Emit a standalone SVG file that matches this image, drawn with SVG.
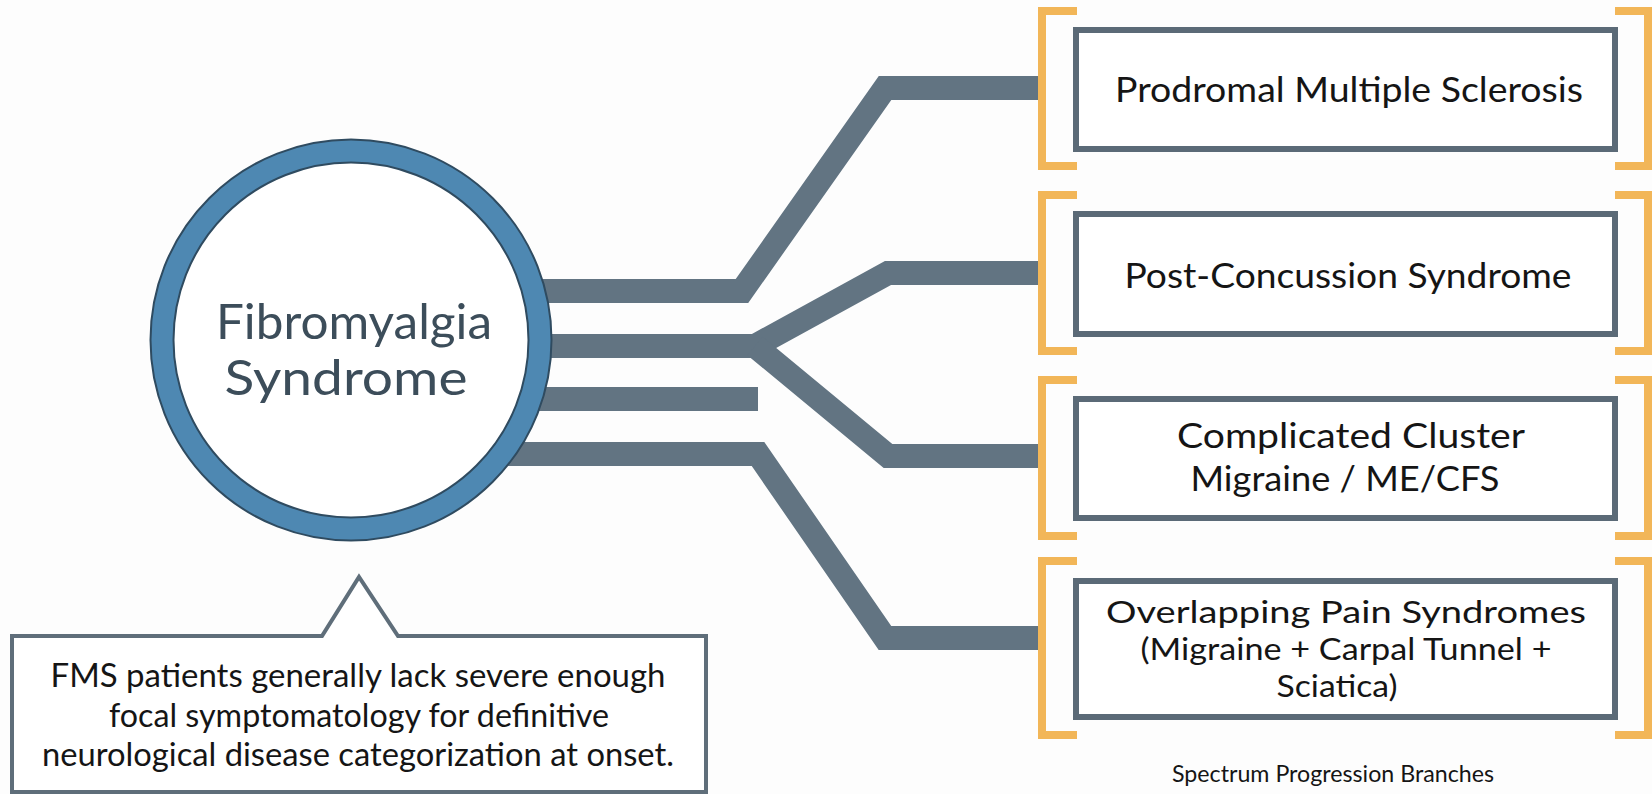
<svg xmlns="http://www.w3.org/2000/svg" width="1652" height="794" viewBox="0 0 1652 794">
<defs>
<style>
.bar{fill:none;stroke:#627482;stroke-width:24;stroke-linejoin:miter;stroke-linecap:butt}
.box{fill:#ffffff;stroke:#5b6a77;stroke-width:6}
.brk{fill:none;stroke:#f2b658;stroke-width:8;stroke-linecap:butt;stroke-linejoin:miter}
.t{font-family:Lato,"Open Sans","Liberation Sans",sans-serif;fill:#151515;text-anchor:middle}
.bt{font-size:34px}
.bt4{font-size:30px}
.ct{font-size:32px}
.lbl{font-size:24px}
.ft{font-family:Lato,"Open Sans","Liberation Sans",sans-serif;fill:#3c4d5a;text-anchor:middle;font-size:48px}
</style>
</defs>
<rect x="0" y="0" width="1652" height="794" fill="#fdfdfd"/>

<g id="connectors">
  <path class="bar" d="M500,291 L742,291 L885,88 L1040,88"/>
  <path class="bar" d="M500,346 L755,346 L888,273 L1040,273"/>
  <path class="bar" d="M755,346 L888,456 L1040,456"/>
  <path class="bar" d="M500,399 L758,399"/>
  <path class="bar" d="M500,454 L758,454 L885,638 L1040,638"/>
</g>

<g id="node-fms">
  <circle cx="351" cy="340" r="189" fill="#ffffff" stroke="#2f4b60" stroke-width="25"/>
  <circle cx="351" cy="340" r="189" fill="none" stroke="#4e88b2" stroke-width="21"/>
  <text class="ft" x="354" y="339" textLength="276" lengthAdjust="spacingAndGlyphs">Fibromyalgia</text>
  <text class="ft" x="346" y="395" textLength="243" lengthAdjust="spacingAndGlyphs">Syndrome</text>
</g>

<g id="node-callout">
  <path d="M12,636 L322,636 L359,577 L398,636 L706,636 L706,792 L12,792 Z" fill="#ffffff" stroke="#5f6e7a" stroke-width="4" stroke-linejoin="miter"/>
  <text class="t ct" x="358" y="687" textLength="615" lengthAdjust="spacingAndGlyphs">FMS patients generally lack severe enough</text>
  <text class="t ct" x="359" y="727" textLength="500" lengthAdjust="spacingAndGlyphs">focal symptomatology for definitive</text>
  <text class="t ct" x="358" y="766" textLength="632" lengthAdjust="spacingAndGlyphs">neurological disease categorization at onset.</text>
</g>

<g id="node-ms">
  <path class="brk" d="M1077,11 L1042,11 L1042,166 L1077,166"/>
  <path class="brk" d="M1615,11 L1648,11 L1648,166 L1615,166"/>
  <rect class="box" x="1076" y="30" width="539" height="119"/>
  <text class="t bt" x="1349" y="102" textLength="468" lengthAdjust="spacingAndGlyphs">Prodromal Multiple Sclerosis</text>
</g>

<g id="node-pcs">
  <path class="brk" d="M1077,195 L1042,195 L1042,351 L1077,351"/>
  <path class="brk" d="M1615,195 L1648,195 L1648,351 L1615,351"/>
  <rect class="box" x="1076" y="214" width="539" height="120"/>
  <text class="t bt" x="1348" y="288" textLength="447" lengthAdjust="spacingAndGlyphs">Post-Concussion Syndrome</text>
</g>

<g id="node-ccm">
  <path class="brk" d="M1077,380 L1042,380 L1042,536 L1077,536"/>
  <path class="brk" d="M1615,380 L1648,380 L1648,536 L1615,536"/>
  <rect class="box" x="1076" y="399" width="539" height="119"/>
  <text class="t bt" x="1351" y="448" textLength="348" lengthAdjust="spacingAndGlyphs">Complicated Cluster</text>
  <text class="t bt" x="1345" y="491" textLength="309" lengthAdjust="spacingAndGlyphs">Migraine / ME/CFS</text>
</g>

<g id="node-ops">
  <path class="brk" d="M1077,561 L1042,561 L1042,735 L1077,735"/>
  <path class="brk" d="M1615,561 L1648,561 L1648,735 L1615,735"/>
  <rect class="box" x="1076" y="581" width="539" height="136"/>
  <text class="t bt4" x="1346" y="623" textLength="480" lengthAdjust="spacingAndGlyphs">Overlapping Pain Syndromes</text>
  <text class="t bt4" x="1346" y="660" textLength="411" lengthAdjust="spacingAndGlyphs">(Migraine + Carpal Tunnel +</text>
  <text class="t bt4" x="1337" y="697" textLength="121" lengthAdjust="spacingAndGlyphs">Sciatica)</text>
</g>

<g id="label-branches">
  <text class="t lbl" x="1333" y="782" textLength="322" lengthAdjust="spacingAndGlyphs">Spectrum Progression Branches</text>
</g>
</svg>
